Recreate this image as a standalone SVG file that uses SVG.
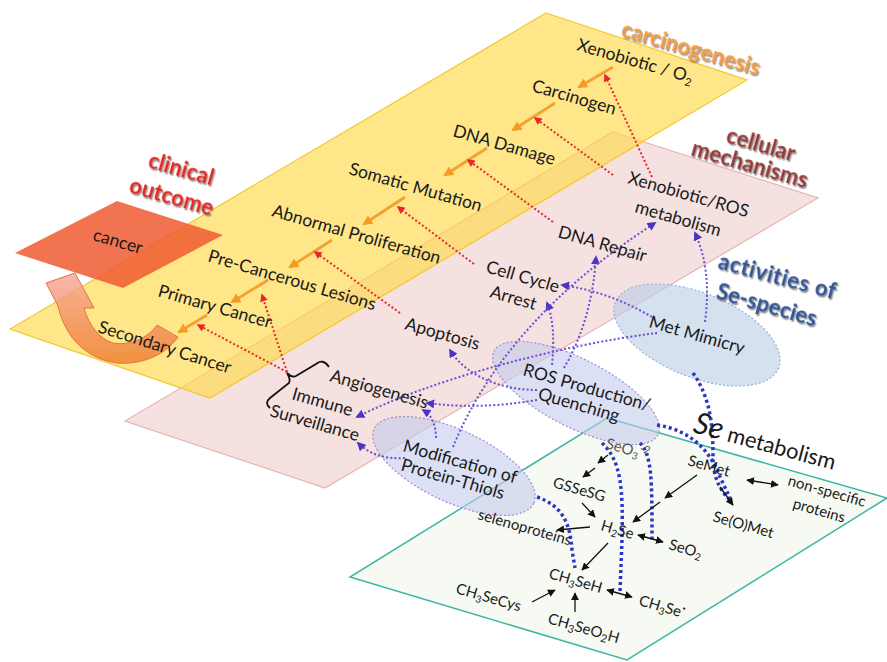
<svg xmlns="http://www.w3.org/2000/svg" width="887" height="662" viewBox="0 0 887 662">
<defs>
<style>
.t{font-family:Lato,'Liberation Sans',sans-serif;fill:#1a1a1a;font-size:17.5px}
.c{font-family:Lato,'Liberation Sans',sans-serif;fill:#1a1a1a;font-size:15px}
.h{font-family:Lato,'Liberation Sans',sans-serif;font-weight:bold;font-size:22px;filter:url(#sh)}
.or{fill:none;stroke:#F5A030;stroke-width:2.8;marker-end:url(#ao)}
.rd{fill:none;stroke:#E8262E;stroke-width:2;stroke-dasharray:2 2.2;marker-end:url(#ar)}
.pu{fill:none;stroke:#6A4FD2;stroke-width:2;stroke-dasharray:2 2.2;marker-end:url(#ap)}
.bl{fill:none;stroke:#2B36C4;stroke-width:3.5;stroke-dasharray:3 3}
.bk{fill:none;stroke:#111;stroke-width:1.3;marker-end:url(#ab)}
.bk2{fill:none;stroke:#111;stroke-width:1.3;marker-end:url(#ab);marker-start:url(#ab)}
.ell1{fill:#B9CDE5;fill-opacity:0.6;stroke:#8EB4E3;stroke-width:1.2;stroke-dasharray:2 2}
.ell2{fill:#C4CCEC;fill-opacity:0.6;stroke:#A08CD8;stroke-width:1.2;stroke-dasharray:2 2}
</style>
<marker id="ao" viewBox="0 0 10 10" refX="8" refY="5" markerWidth="3.6" markerHeight="3.6" orient="auto"><path d="M0,0 L10,5 L0,10 z" fill="#F59A23"/></marker>
<marker id="ar" viewBox="0 0 10 10" refX="8" refY="5" markerWidth="4" markerHeight="4" orient="auto"><path d="M0,0 L10,5 L0,10 z" fill="#E8262E"/></marker>
<marker id="ap" viewBox="0 0 10 10" refX="8" refY="5" markerWidth="4.5" markerHeight="4.5" orient="auto"><path d="M0,0 L10,5 L0,10 z" fill="#4B35C0"/></marker>
<marker id="ab" viewBox="0 0 10 10" refX="9" refY="5" markerWidth="6" markerHeight="6" orient="auto-start-reverse"><path d="M0,0 L10,5 L0,10 z" fill="#111"/></marker>
<filter id="sh" x="-10%" y="-30%" width="130%" height="170%"><feDropShadow dx="1.5" dy="1.5" stdDeviation="0.7" flood-color="#666" flood-opacity="0.7"/></filter>
<linearGradient id="ga" x1="0" y1="0" x2="0" y2="1"><stop offset="0" stop-color="#F6A49A"/><stop offset="1" stop-color="#EE7B2E"/></linearGradient>
</defs>

<g id="planes">
<polygon id="se-plane" points="607,418 887,498 627,660 350,577" fill="#F7FAF2" stroke="#3FB5A8" stroke-width="1.5"/>
<polygon id="cellular-plane" points="613,132 818,198 325,488 125,421" fill="#F2DCDB" fill-opacity="0.85" stroke="#E8B4B4" stroke-width="1.2"/>
<polygon id="carcinogenesis-plane" points="546,13 747,80 210,398 10,329" fill="#FFD84A" fill-opacity="0.65" stroke="#F2C830" stroke-width="1.2"/>
<polygon id="outcome-plane" points="117,201 223,235 123,288 15,253" fill="#EF5A30" fill-opacity="0.85"/>
<path id="recurrence-arrow" d="M178 337 C165 356 140 365 117 363 C88 359 66 340 58 306 L46 283 L75 273 L94 308 L84 308 C89 326 100 339 113 343 C130 346 148 338 157 325 Z" fill="url(#ga)" fill-opacity="0.8" stroke="#E8733A" stroke-width="1"/>
</g>

<g id="n-met-mimicry">
<ellipse cx="697" cy="335" rx="88" ry="42" transform="rotate(22 697 335)" class="ell1"/>
<text class="t" x="648" y="327" transform="rotate(16 648 327)">Met Mimicry</text>
</g>
<g id="n-ros">
<ellipse cx="576" cy="393" rx="92" ry="34" transform="rotate(27 576 393)" class="ell2"/>
<text class="t" x="522" y="375" transform="rotate(16 522 375)">ROS Production/</text>
<text class="t" x="537" y="399" transform="rotate(16 537 399)">Quenching</text>
</g>
<g id="n-mod">
<ellipse cx="454" cy="466" rx="88" ry="36" transform="rotate(25 454 466)" class="ell2"/>
<text class="t" x="402" y="451" transform="rotate(16 402 451)">Modification of</text>
<text class="t" x="400" y="470" transform="rotate(16 400 470)">Protein-Thiols</text>
</g>

<g id="connectors">
<path class="or" d="M613 67 L579 87"/>
<path class="or" d="M555 103 L513 130"/>
<path class="or" d="M487 148 L445 175"/>
<path class="or" d="M405 197 L364 224"/>
<path class="or" d="M332 240 L290 267"/>
<path class="or" d="M268 280 L232 302"/>
<path class="or" d="M207 315 L179 332"/>

<path class="rd" d="M652 177 L605 75"/>
<path class="rd" d="M613 175 L535 118"/>
<path class="rd" d="M553 222 L468 160"/>
<path class="rd" d="M474 264 L398 207"/>
<path class="rd" d="M400 313 L315 252"/>
<path class="rd" d="M287 372 L262 295"/>
<path class="rd" d="M287 372 L198 325"/>

<path class="pu" d="M552 365 Q556 325 547 303"/>
<path class="pu" d="M564 368 Q592 320 596 257"/>
<path class="pu" d="M537 390 C500 390 465 375 450 350"/>
<path class="pu" d="M537 400 Q480 410 427 403"/>
<path class="pu" d="M652 317 Q610 292 562 285"/>
<path class="pu" d="M705 322 Q712 270 695 233"/>
<path class="pu" d="M657 333 C560 345 430 380 357 417"/>
<path class="pu" d="M405 458 Q375 460 358 443"/>
<path class="pu" d="M436 438 Q436 418 423 410"/>
<path class="pu" d="M453 447 Q505 320 655 223"/>

<path class="bl" d="M693 373 C712 400 713 430 713 460 Q714 485 730 500"/>
<path class="bl" d="M657 425 C690 430 710 450 720 477 L730 498"/>
<path class="bl" d="M602 443 C622 462 623 490 622 540 L620 592"/>
<path class="bl" d="M640 443 C652 455 652 480 652 540"/>
<path class="bl" d="M537 497 C560 505 570 520 572 550 L575 568"/>

<path class="bk" d="M608 455 L598 463"/>
<path class="bk" d="M595 468 L583 477"/>
<path class="bk" d="M582 503 L595 517"/>
<path class="bk" d="M697 475 L665 498"/>
<path class="bk" d="M660 502 L633 522"/>
<path class="bk" d="M590 527 L557 530"/>
<path class="bk2" d="M638 535 L663 542"/>
<path class="bk" d="M608 543 L582 570"/>
<path class="bk" d="M532 602 L555 590"/>
<path class="bk" d="M575 612 L575 593"/>
<path class="bk2" d="M607 590 L632 597"/>
<path class="bk2" d="M747 480 L778 485"/>
<path class="bk" d="M720 487 L733 505"/>
<path d="M329 367 Q323 358 316 364 L296 376 Q292 378 287 373 Q291 380 289 383 L270 398 Q264 403 270 408" fill="none" stroke="#111" stroke-width="1.8"/>
</g>

<g id="layer-labels">
<text class="h" x="620" y="36" transform="rotate(16 620 36)" style="fill:#F59D3D">carcinogenesis</text>
<text class="h" x="725" y="142" transform="rotate(16 725 142)" style="fill:#953735">cellular</text>
<text class="h" x="690" y="155" transform="rotate(16 690 155)" style="fill:#953735">mechanisms</text>
<text class="h" x="147" y="167" transform="rotate(16 147 167)" style="fill:#E5281E">clinical</text>
<text class="h" x="128" y="192" transform="rotate(16 128 192)" style="fill:#E5281E">outcome</text>
<text class="h" x="717" y="268" transform="rotate(15 717 268)" style="fill:#2F5597;letter-spacing:0.6px">activities  of</text>
<text class="h" x="715" y="298" transform="rotate(16 715 298)" style="fill:#2F5597">Se-species</text>
<text class="t" x="692" y="432" transform="rotate(15 692 432)"><tspan font-size="30" font-style="italic">Se</tspan><tspan font-size="22"> metabolism</tspan></text>
</g>

<g id="n-cancer"><text class="t" x="92" y="240" transform="rotate(16 92 240)" font-size="19">cancer</text></g>

<g id="n-xeno"><text class="t" x="576" y="50" transform="rotate(16 576 50)">Xenobiotic / O<tspan font-size="11" dy="4">2</tspan></text></g>
<g id="n-carcinogen"><text class="t" x="531" y="91" transform="rotate(16 531 91)">Carcinogen</text></g>
<g id="n-dna-damage"><text class="t" x="452" y="136" transform="rotate(16 452 136)">DNA Damage</text></g>
<g id="n-somatic"><text class="t" x="348" y="174" transform="rotate(16 348 174)">Somatic Mutation</text></g>
<g id="n-abnormal"><text class="t" x="271" y="216" transform="rotate(16 271 216)">Abnormal Proliferation</text></g>
<g id="n-precancer"><text class="t" x="207" y="261" transform="rotate(16.5 207 261)">Pre-Cancerous Lesions</text></g>
<g id="n-primary"><text class="t" x="157" y="296" transform="rotate(16 157 296)">Primary Cancer</text></g>
<g id="n-secondary"><text class="t" x="97" y="332" transform="rotate(17.5 97 332)" font-size="18.5">Secondary Cancer</text></g>

<g id="n-xeno-ros"><text class="t" x="627" y="183" transform="rotate(16 627 183)">Xenobiotic/ROS</text><text class="t" x="634" y="212" transform="rotate(16 634 212)">metabolism</text></g>
<g id="n-dna-repair"><text class="t" x="557" y="237" transform="rotate(16 557 237)">DNA Repair</text></g>
<g id="n-cellcycle"><text class="t" x="485" y="272" transform="rotate(16 485 272)">Cell Cycle</text><text class="t" x="489" y="297" transform="rotate(16 489 297)">Arrest</text></g>
<g id="n-apoptosis"><text class="t" x="404" y="329" transform="rotate(16 404 329)">Apoptosis</text></g>
<g id="n-angio"><text class="t" x="329" y="381" transform="rotate(16 329 381)">Angiogenesis</text></g>
<g id="n-immune"><text class="t" x="291" y="399" transform="rotate(16 291 399)">Immune</text><text class="t" x="269" y="416" transform="rotate(16 269 416)">Surveillance</text></g>

<g id="n-seo3"><text class="c" x="605" y="448" transform="rotate(16 605 448)" style="fill:#555">SeO<tspan font-size="10" dy="3">3</tspan><tspan font-size="11" dy="-9">-2</tspan></text></g>
<g id="n-semet"><text class="c" x="687" y="465" transform="rotate(16 687 465)" font-size="16">SeMet</text></g>
<g id="n-gssesg"><text class="c" x="552" y="487" transform="rotate(16 552 487)" font-size="14">GSSeSG</text></g>
<g id="n-selenoproteins"><text class="c" x="477" y="519" transform="rotate(16 477 519)" font-size="14">selenoproteins</text></g>
<g id="n-h2se"><text class="c" x="600" y="530" transform="rotate(16 600 530)">H<tspan font-size="10" dy="3">2</tspan><tspan dy="-3">Se</tspan></text></g>
<g id="n-seo2"><text class="c" x="668" y="549" transform="rotate(16 668 549)">SeO<tspan font-size="10" dy="3">2</tspan></text></g>
<g id="n-seomet"><text class="c" x="712" y="521" transform="rotate(16 712 521)">Se(O)Met</text></g>
<g id="n-nonspecific"><text class="c" x="787" y="485" transform="rotate(16 787 485)" font-size="14">non-specific</text><text class="c" x="792" y="508" transform="rotate(16 792 508)" font-size="14">proteins</text></g>
<g id="n-ch3seh"><text class="c" x="548" y="578" transform="rotate(16 548 578)" font-size="16">CH<tspan font-size="10" dy="3">3</tspan><tspan dy="-3">SeH</tspan></text></g>
<g id="n-ch3se"><text class="c" x="638" y="605" transform="rotate(16 638 605)">CH<tspan font-size="10" dy="3">3</tspan><tspan dy="-3">Se</tspan><tspan dy="-5">·</tspan></text></g>
<g id="n-ch3secys"><text class="c" x="455" y="593" transform="rotate(16 455 593)" font-size="16">CH<tspan font-size="10" dy="3">3</tspan><tspan dy="-3">SeCys</tspan></text></g>
<g id="n-ch3seo2h"><text class="c" x="547" y="623" transform="rotate(16 547 623)" font-size="17">CH<tspan font-size="11" dy="3">3</tspan><tspan dy="-3">SeO</tspan><tspan font-size="11" dy="3">2</tspan><tspan dy="-3">H</tspan></text></g>
</svg>
